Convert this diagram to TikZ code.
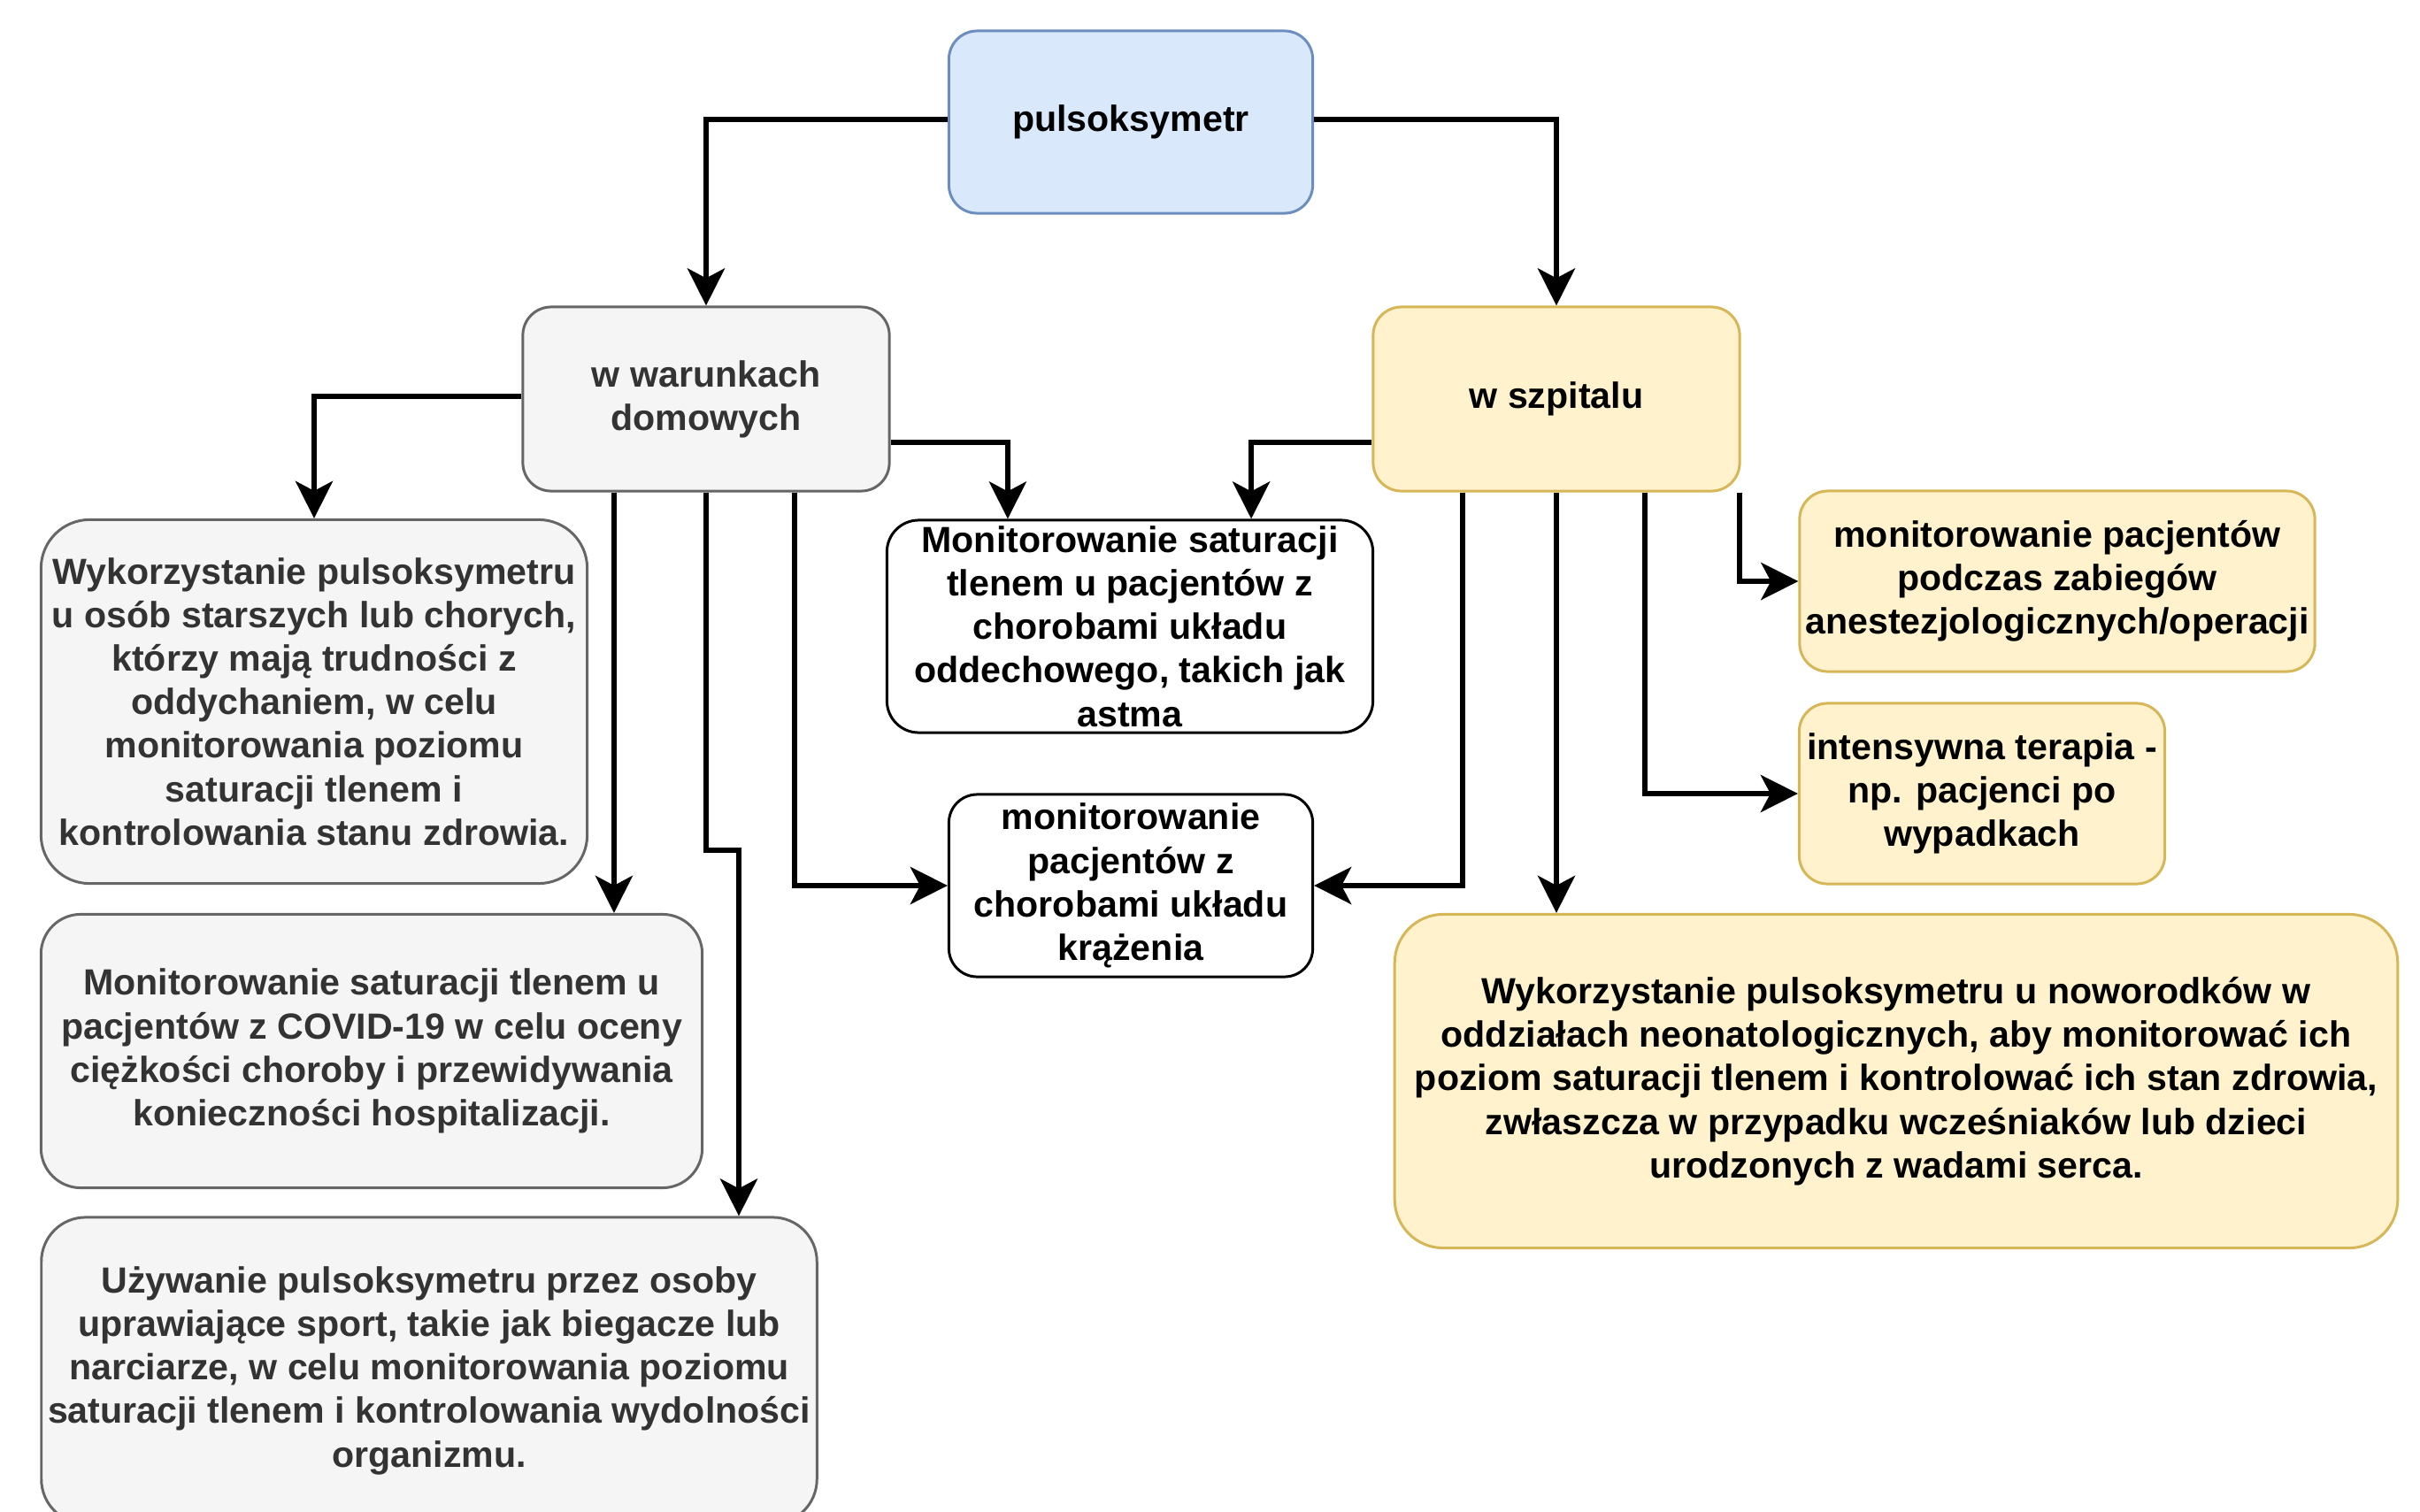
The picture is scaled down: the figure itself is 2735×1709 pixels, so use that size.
\documentclass[tikz,border=0pt]{standalone}
\usepackage{fontspec}
\setmainfont{Liberation Sans}
\usepackage{tikz}
\usetikzlibrary{arrows.meta}

\definecolor{bluefill}{HTML}{DAE8FC}
\definecolor{blueline}{HTML}{6C8EBF}
\definecolor{grayfill}{HTML}{F5F5F5}
\definecolor{grayline}{HTML}{666666}
\definecolor{graytext}{HTML}{333333}
\definecolor{yellowfill}{HTML}{FFF2CC}
\definecolor{yellowline}{HTML}{D6B656}

\begin{document}
\begin{tikzpicture}[x=0.01cm,y=-0.01cm,
			->,>={Stealth[length=4.2mm,width=4.2mm,inset=1.1mm]},
			box/.style={rectangle,rounded corners=0.32cm,draw,line width=0.85pt,align=center,inner sep=1pt,font=\fontsize{11.7}{14}\selectfont\bfseries},
			root node/.style={box,fill=bluefill,draw=blueline},
			home node/.style={box,fill=grayfill,draw=grayline,text=graytext},
			hospital node/.style={box,fill=yellowfill,draw=yellowline},
			plain node/.style={box,fill=white,draw=black},
			link/.style={line width=1.7pt,black}
			]

			\useasboundingbox (0,0) rectangle (2735,1709);

			% top and the two branches
			\node[root node,minimum width=4.11cm,minimum height=2.06cm] at (1278,138) (puls) {pulsoksymetr};
			\node[home node,minimum width=4.14cm,minimum height=2.08cm] at (798,451) (dom) {w warunkach\\domowych};
			\node[hospital node,minimum width=4.14cm,minimum height=2.08cm] at (1759,451) (szp) {w szpitalu};

			% home use
			\node[home node,rounded corners=0.55cm,minimum width=6.17cm,minimum height=4.11cm] at (355,793) (starsi) {Wykorzystanie pulsoksymetru\\u osób starszych lub chorych,\\którzy mają trudności z\\oddychaniem, w celu\\monitorowania poziomu\\saturacji tlenem i\\kontrolowania stanu zdrowia.};
			\node[home node,rounded corners=0.45cm,minimum width=7.47cm,minimum height=3.09cm] at (420,1188) (covid) {Monitorowanie saturacji tlenem u\\pacjentów z COVID-19 w celu oceny\\ciężkości choroby i przewidywania\\konieczności hospitalizacji.};
			\node[home node,rounded corners=0.5cm,minimum width=8.76cm,minimum height=3.46cm] at (485,1549) (sport) {Używanie pulsoksymetru przez osoby\\uprawiające sport, takie jak biegacze lub\\narciarze, w celu monitorowania poziomu\\saturacji tlenem i kontrolowania wydolności\\organizmu.};

			% shared
			\node[plain node,rounded corners=0.36cm,minimum width=5.49cm,minimum height=2.40cm] at (1277,708) (oddech) {Monitorowanie saturacji\\tlenem u pacjentów z\\chorobami układu\\oddechowego, takich jak\\astma};
			\node[plain node,minimum width=4.11cm,minimum height=2.06cm] at (1278,1001) (krazenie) {monitorowanie\\pacjentów z\\chorobami układu\\krążenia};

			% hospital use
			\node[hospital node,minimum width=5.82cm,minimum height=2.04cm] at (2325,657) (anest) {monitorowanie pacjentów\\podczas zabiegów\\anestezjologicznych/operacji};
			\node[hospital node,minimum width=4.13cm,minimum height=2.04cm] at (2240,897) (intens) {intensywna terapia -\\np. pacjenci po\\wypadkach};
			\node[hospital node,rounded corners=0.55cm,minimum width=11.33cm,minimum height=3.77cm] at (2143,1222) (noworodki) {Wykorzystanie pulsoksymetru u noworodków w\\oddziałach neonatologicznych, aby monitorować ich\\poziom saturacji tlenem i kontrolować ich stan zdrowia,\\zwłaszcza w przypadku wcześniaków lub dzieci\\urodzonych z wadami serca.};

			\coordinate (k1) at (835,961);

			\draw[link] ([yshift=0.03cm]puls.west) -| (dom.north);
			\draw[link] ([yshift=0.03cm]puls.east) -| (szp.north);

			\draw[link] ([yshift=0.03cm]dom.west) -| (starsi.north);
			\draw[link] ([yshift=-0.49cm]dom.east) -| ([xshift=-1.38cm]oddech.north);
			\draw[link] ([xshift=-1.04cm]dom.south) -- ([xshift=-1.04cm]dom.south |- covid.north);
			\draw[link] (dom.south) |- (k1) -- (k1 |- sport.north);
			\draw[link] ([xshift=1cm]dom.south) |- (krazenie.west);

			\draw[link] ([yshift=-0.49cm]szp.west) -| ([xshift=1.37cm]oddech.north);
			\draw[link] ([xshift=-1.06cm]szp.south) |- (krazenie.east);
			\draw[link] (szp.south) -- (szp.south |- noworodki.north);
			\draw[link] ([xshift=1cm]szp.south) |- (intens.west);
			\draw[link] ([xshift=-0.02cm]szp.south east) |- (anest.west);
		\end{tikzpicture}
\end{document}
